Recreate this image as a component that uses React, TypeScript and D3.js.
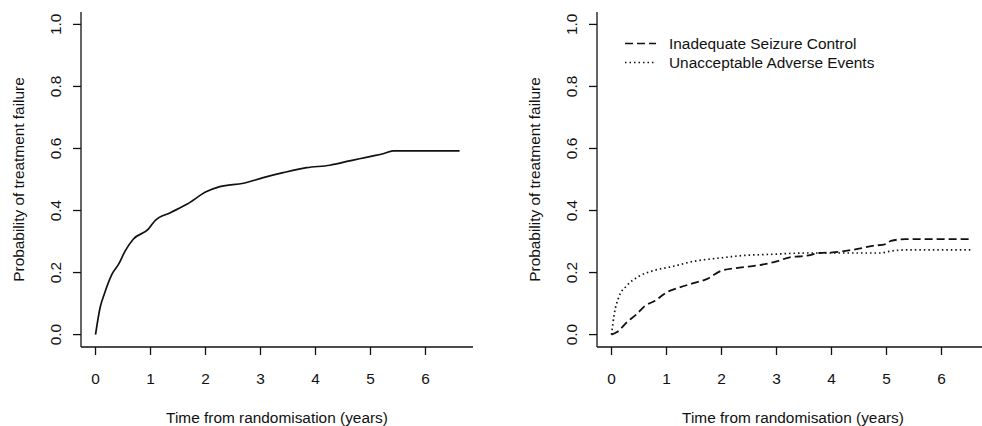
import React from "react";
import * as d3 from "d3";

type Pt = [number, number];

// Left panel: overall probability of treatment failure
const overallTime = [0, 0.085, 0.16, 0.3, 0.42, 0.54, 0.69, 0.96, 1.08, 1.36, 1.66, 2.02, 2.26, 2.69, 3.05, 3.41, 3.84, 4.26, 4.62, 4.8, 5.05, 5.23, 5.41, 6.62];
const overallProb = [0, 0.088, 0.131, 0.195, 0.227, 0.27, 0.308, 0.34, 0.367, 0.393, 0.42, 0.461, 0.477, 0.488, 0.506, 0.522, 0.538, 0.546, 0.56, 0.567, 0.576, 0.583, 0.592, 0.592];

// Right panel: cause-specific cumulative incidence
const iscTime = [0, 0.1, 0.28, 0.46, 0.61, 0.79, 1.0, 1.24, 1.49, 1.73, 2.0, 2.33, 2.69, 3.0, 3.24, 3.54, 3.78, 4.02, 4.26, 4.5, 4.75, 4.99, 5.08, 5.35, 6.56];
const iscProb = [0, 0.008, 0.04, 0.066, 0.093, 0.109, 0.136, 0.152, 0.166, 0.179, 0.206, 0.216, 0.224, 0.236, 0.249, 0.254, 0.263, 0.265, 0.27, 0.277, 0.286, 0.292, 0.302, 0.308, 0.308];

const uaeTime = [0, 0.05, 0.13, 0.28, 0.52, 0.76, 1.12, 1.49, 1.97, 2.33, 2.93, 3.54, 4.15, 4.87, 5.11, 5.35, 6.56];
const uaeProb = [0, 0.066, 0.12, 0.158, 0.19, 0.206, 0.22, 0.236, 0.247, 0.254, 0.259, 0.263, 0.263, 0.263, 0.27, 0.273, 0.273];

const xTicks = [0, 1, 2, 3, 4, 5, 6];
const yTicks = [0, 0.2, 0.4, 0.6, 0.8, 1.0];
const legendLabels = ["Inadequate Seizure Control", "Unacceptable Adverse Events"];
const xTitle = "Time from randomisation (years)";
const yTitle = "Probability of treatment failure";

const FONT = "'Liberation Sans', Arial, sans-serif";
const FS = 15.4;
const XMIN = 0, XMAX = 6.6;

function zip(t: number[], p: number[]): Pt[] {
  return t.map((v, i) => [v, p[i]] as Pt);
}

function Panel({ left, children }: { left: number; children: (x: d3.ScaleLinear<number, number>, y: d3.ScaleLinear<number, number>) => React.ReactNode }) {
  const plotW = 392;
  const top = 12, bottom = 347;
  const padX = (XMAX - XMIN) * 0.04;
  const x = d3.scaleLinear().domain([XMIN - padX, XMAX + padX]).range([left, left + plotW]);
  const y = d3.scaleLinear().domain([-0.04, 1.04]).range([bottom, top]);
  const cx = left + plotW / 2;
  return (
    <g>
      <line x1={left} x2={left} y1={top} y2={bottom} stroke="#111" strokeWidth={1.3} />
      <line x1={left} x2={left + plotW} y1={bottom} y2={bottom} stroke="#111" strokeWidth={1.3} />
      {xTicks.map((t) => (
        <g key={"x" + t}>
          <line x1={x(t)} x2={x(t)} y1={bottom} y2={bottom + 8} stroke="#111" strokeWidth={1.3} />
          <text x={x(t)} y={378} textAnchor="middle" dominantBaseline="central" fontSize={FS} fontFamily={FONT} fill="#111">{t}</text>
        </g>
      ))}
      {yTicks.map((t) => (
        <g key={"y" + t}>
          <line x1={left - 8} x2={left} y1={y(t)} y2={y(t)} stroke="#111" strokeWidth={1.3} />
          <text transform={`translate(${left - 26},${y(t)}) rotate(-90)`} textAnchor="middle" dominantBaseline="central" fontSize={FS} fontFamily={FONT} fill="#111">{t.toFixed(1)}</text>
        </g>
      ))}
      <text x={cx} y={417} textAnchor="middle" dominantBaseline="central" fontSize={FS} fontFamily={FONT} fill="#111">{xTitle}</text>
      <text transform={`translate(${left - 63},${(y(0) + y(1)) / 2}) rotate(-90)`} textAnchor="middle" dominantBaseline="central" fontSize={FS} fontFamily={FONT} fill="#111">{yTitle}</text>
      {children(x, y)}
    </g>
  );
}

export default function App() {
  const mk = (x: d3.ScaleLinear<number, number>, y: d3.ScaleLinear<number, number>) =>
    d3.line<Pt>().x((d) => x(d[0])).y((d) => y(d[1])).curve(d3.curveMonotoneX);

  return (
    <svg width={982} height={426} style={{ position: "absolute", left: 0, top: 0, background: "#fff" }}>
      <rect x={0} y={0} width={982} height={426} fill="#fff" />
      <Panel left={81}>
        {(x, y) => (
          <path d={mk(x, y)(zip(overallTime, overallProb)) || ""} fill="none" stroke="#111" strokeWidth={1.7} />
        )}
      </Panel>
      <Panel left={597}>
        {(x, y) => (
          <g>
            <path d={mk(x, y)(zip(iscTime, iscProb)) || ""} fill="none" stroke="#111" strokeWidth={1.8} strokeDasharray="8,4" />
            <path d={mk(x, y)(zip(uaeTime, uaeProb)) || ""} fill="none" stroke="#111" strokeWidth={1.7} strokeDasharray="1.5,3" />
            {legendLabels.map((lab, i) => (
              <g key={lab}>
                <line x1={625} x2={656} y1={43.5 + i * 19} y2={43.5 + i * 19} stroke="#111" strokeWidth={1.5} strokeDasharray={i === 0 ? "8,4" : "1.5,3"} />
                <text x={669} y={43.5 + i * 19} dominantBaseline="central" fontSize={FS} fontFamily={FONT} fill="#111">{lab}</text>
              </g>
            ))}
          </g>
        )}
      </Panel>
    </svg>
  );
}
